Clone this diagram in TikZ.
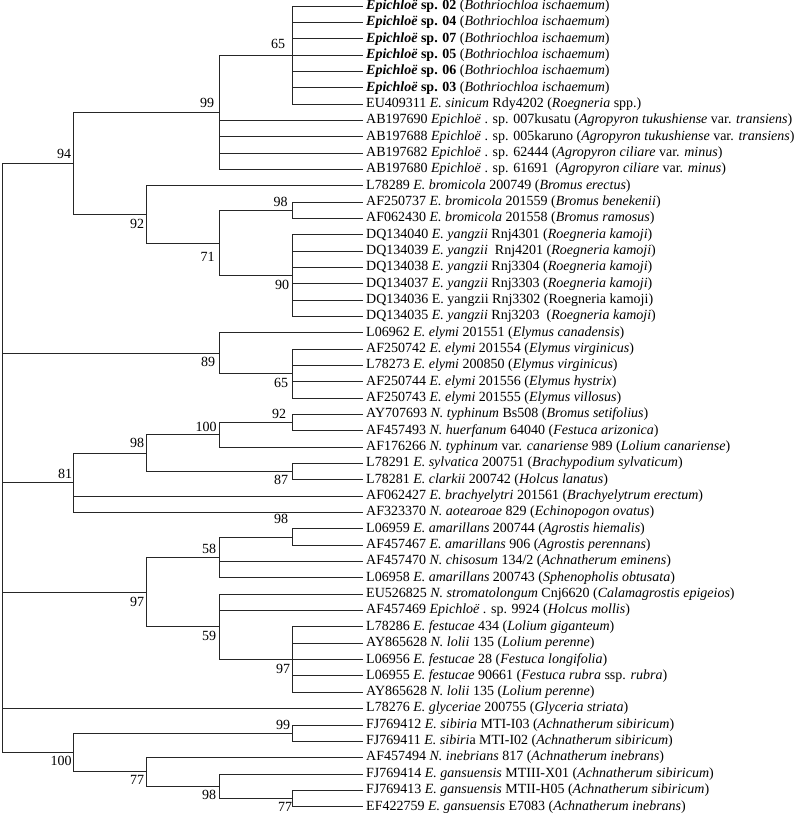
\documentclass[tikz,border=0pt]{standalone}
\usepackage{fontspec}
\setmainfont{Liberation Serif}
\usepackage{tikz}

\begin{document}
\begin{tikzpicture}[x=1pt, y=-1pt,
  taxon/.style={anchor=west, inner sep=0pt, inner xsep=3pt, font=\fontsize{14}{16}\selectfont},
  boot/.style={inner sep=0pt, font=\fontsize{14}{16}\selectfont},
  branch/.style={line width=0.9pt, color=black!85}]

\useasboundingbox (0,0) rectangle (800,814);

% junctions

\coordinate (r) at (2, 458);
\coordinate (j1) at (73, 163.3);
\coordinate (j2) at (219, 112.2);
\coordinate (j3) at (292, 55.0);
\coordinate (j4) at (146, 214.4);
\coordinate (j5) at (219, 243.0);
\coordinate (j6) at (292, 210.3);
\coordinate (j7) at (292, 275.6);
\coordinate (j8) at (219, 353.2);
\coordinate (j9) at (292, 373.7);
\coordinate (j10) at (73, 482.9);
\coordinate (j11) at (146, 453.3);
\coordinate (j12) at (219, 434.9);
\coordinate (j13) at (292, 422.7);
\coordinate (j14) at (292, 471.7);
\coordinate (j15) at (146, 592.2);
\coordinate (j16) at (219, 557.5);
\coordinate (j17) at (292, 537.1);
\coordinate (j18) at (219, 626.9);
\coordinate (j19) at (292, 659.6);
\coordinate (j20) at (73, 752.6);
\coordinate (j21) at (292, 733.2);
\coordinate (j22) at (146, 771.9);
\coordinate (j23) at (219, 786.2);
\coordinate (j24) at (292, 798.5);

% taxa

\node[taxon] (t1) at (363, 6.0) {\textbf{\textit{Epichloë}} \textbf{sp. 02} (\textit{Bothriochloa ischaemum})};
\node[taxon] (t2) at (363, 22.3) {\textbf{\textit{Epichloë}} \textbf{sp. 04} (\textit{Bothriochloa ischaemum})};
\node[taxon] (t3) at (363, 38.7) {\textbf{\textit{Epichloë}} \textbf{sp. 07} (\textit{Bothriochloa ischaemum})};
\node[taxon] (t4) at (363, 55.0) {\textbf{\textit{Epichloë}} \textbf{sp. 05} (\textit{Bothriochloa ischaemum})};
\node[taxon] (t5) at (363, 71.4) {\textbf{\textit{Epichloë}} \textbf{sp. 06} (\textit{Bothriochloa ischaemum})};
\node[taxon] (t6) at (363, 87.7) {\textbf{\textit{Epichloë}} \textbf{sp. 03} (\textit{Bothriochloa ischaemum})};
\node[taxon] (t7) at (363, 104.0) {EU409311 \textit{E. sinicum} Rdy4202 (\textit{Roegneria} spp.)};
\node[taxon] (t8) at (363, 120.4) {AB197690 \textit{Epichloë} . sp. 007kusatu (\textit{Agropyron tukushiense} var. \textit{transiens})};
\node[taxon] (t9) at (363, 136.7) {AB197688 \textit{Epichloë} . sp. 005karuno (\textit{Agropyron tukushiense} var. \textit{transiens})};
\node[taxon] (t10) at (363, 153.1) {AB197682 \textit{Epichloë} . sp. 62444 (\textit{Agropyron ciliare} var. \textit{minus})};
\node[taxon] (t11) at (363, 169.4) {AB197680 \textit{Epichloë} . sp. 61691\ \ (\textit{Agropyron ciliare} var. \textit{minus})};
\node[taxon] (t12) at (363, 185.7) {L78289 \textit{E. bromicola} 200749 (\textit{Bromus erectus})};
\node[taxon] (t13) at (363, 202.1) {AF250737 \textit{E. bromicola} 201559 (\textit{Bromus benekenii})};
\node[taxon] (t14) at (363, 218.4) {AF062430 \textit{E. bromicola} 201558 (\textit{Bromus ramosus})};
\node[taxon] (t15) at (363, 234.8) {DQ134040 \textit{E. yangzii} Rnj4301 (\textit{Roegneria kamoji})};
\node[taxon] (t16) at (363, 251.1) {DQ134039 \textit{E. yangzii}\ \ Rnj4201 (\textit{Roegneria kamoji})};
\node[taxon] (t17) at (363, 267.4) {DQ134038 \textit{E. yangzii} Rnj3304 (\textit{Roegneria kamoji})};
\node[taxon] (t18) at (363, 283.8) {DQ134037 \textit{E. yangzii} Rnj3303 (\textit{Roegneria kamoji})};
\node[taxon] (t19) at (363, 300.1) {DQ134036 E. yangzii Rnj3302 (Roegneria kamoji)};
\node[taxon] (t20) at (363, 316.5) {DQ134035 \textit{E. yangzii} Rnj3203\ \ (\textit{Roegneria kamoji})};
\node[taxon] (t21) at (363, 332.8) {L06962 \textit{E. elymi} 201551 (\textit{Elymus canadensis})};
\node[taxon] (t22) at (363, 349.1) {AF250742 \textit{E. elymi} 201554 (\textit{Elymus virginicus})};
\node[taxon] (t23) at (363, 365.5) {L78273 \textit{E. elymi} 200850 (\textit{Elymus virginicus})};
\node[taxon] (t24) at (363, 381.8) {AF250744 \textit{E. elymi} 201556 (\textit{Elymus hystrix})};
\node[taxon] (t25) at (363, 398.2) {AF250743 \textit{E. elymi} 201555 (\textit{Elymus villosus})};
\node[taxon] (t26) at (363, 414.5) {AY707693 \textit{N. typhinum} Bs508 (\textit{Bromus setifolius})};
\node[taxon] (t27) at (363, 430.8) {AF457493 \textit{N. huerfanum} 64040 (\textit{Festuca arizonica})};
\node[taxon] (t28) at (363, 447.2) {AF176266 \textit{N. typhinum} var. \textit{canariense} 989 (\textit{Lolium canariense})};
\node[taxon] (t29) at (363, 463.5) {L78291 \textit{E. sylvatica} 200751 (\textit{Brachypodium sylvaticum})};
\node[taxon] (t30) at (363, 479.9) {L78281 \textit{E. clarkii} 200742 (\textit{Holcus lanatus})};
\node[taxon] (t31) at (363, 496.2) {AF062427 \textit{E. brachyelytri} 201561 (\textit{Brachyelytrum erectum})};
\node[taxon] (t32) at (363, 512.5) {AF323370 \textit{N. aotearoae} 829 (\textit{Echinopogon ovatus})};
\node[taxon] (t33) at (363, 528.9) {L06959 \textit{E. amarillans} 200744 (\textit{Agrostis hiemalis})};
\node[taxon] (t34) at (363, 545.2) {AF457467 \textit{E. amarillans} 906 (\textit{Agrostis perennans})};
\node[taxon] (t35) at (363, 561.6) {AF457470 \textit{N. chisosum} 134/2 (\textit{Achnatherum eminens})};
\node[taxon] (t36) at (363, 577.9) {L06958 \textit{E. amarillans} 200743 (\textit{Sphenopholis obtusata})};
\node[taxon] (t37) at (363, 594.2) {EU526825 \textit{N. stromatolongum} Cnj6620 (\textit{Calamagrostis epigeios})};
\node[taxon] (t38) at (363, 610.6) {AF457469 \textit{Epichloë} . sp. 9924 (\textit{Holcus mollis})};
\node[taxon] (t39) at (363, 626.9) {L78286 \textit{E. festucae} 434 (\textit{Lolium giganteum})};
\node[taxon] (t40) at (363, 643.3) {AY865628 \textit{N. lolii} 135 (\textit{Lolium perenne})};
\node[taxon] (t41) at (363, 659.6) {L06956 \textit{E. festucae} 28 (\textit{Festuca longifolia})};
\node[taxon] (t42) at (363, 675.9) {L06955 \textit{E. festucae} 90661 (\textit{Festuca rubra} ssp. \textit{rubra})};
\node[taxon] (t43) at (363, 692.3) {AY865628 \textit{N. lolii} 135 (\textit{Lolium perenne})};
\node[taxon] (t44) at (363, 708.6) {L78276 \textit{E. glyceriae} 200755 (\textit{Glyceria striata})};
\node[taxon] (t45) at (363, 725.0) {FJ769412 \textit{E. sibiria} MTI-I03 (\textit{Achnatherum sibiricum})};
\node[taxon] (t46) at (363, 741.3) {FJ769411 \textit{E. sibiri}a MTI-I02 (\textit{Achnatherum sibiricum})};
\node[taxon] (t47) at (363, 757.6) {AF457494 \textit{N. inebrians} 817 (\textit{Achnatherum inebrans})};
\node[taxon] (t48) at (363, 774.0) {FJ769414 \textit{E. gansuensis} MTIII-X01 (\textit{Achnatherum sibiricum})};
\node[taxon] (t49) at (363, 790.3) {FJ769413 \textit{E. gansuensis} MTII-H05 (\textit{Achnatherum sibiricum})};
\node[taxon] (t50) at (363, 806.7) {EF422759 \textit{E. gansuensis} E7083 (\textit{Achnatherum inebrans})};

% bootstrap values

\node[boot] (s1) at (64, 153.5) {94};
\node[boot] (s2) at (207, 103) {99};
\node[boot] (s3) at (278, 44) {65};
\node[boot] (s4) at (137, 224) {92};
\node[boot] (s5) at (207.5, 257) {71};
\node[boot] (s6) at (280.5, 202) {98};
\node[boot] (s7) at (282, 285) {90};
\node[boot] (s8) at (208, 362) {89};
\node[boot] (s9) at (281, 383) {65};
\node[boot] (s10) at (65, 474) {81};
\node[boot] (s11) at (137, 443.3) {98};
\node[boot] (s12) at (206, 426.7) {100};
\node[boot] (s13) at (279, 414) {92};
\node[boot] (s14) at (281, 480) {87};
\node[boot] (s15) at (137, 601.5) {97};
\node[boot] (s16) at (209, 549.3) {58};
\node[boot] (s17) at (281, 519.3) {98};
\node[boot] (s18) at (209, 635.7) {59};
\node[boot] (s19) at (283, 669.3) {97};
\node[boot] (s20) at (61, 760.5) {100};
\node[boot] (s21) at (283, 725) {99};
\node[boot] (s22) at (137, 780) {77};
\node[boot] (s23) at (209, 794.5) {98};
\node[boot] (s24) at (285, 807) {77};

% root
\draw[branch] (r) |- (j1);
\draw[branch] (r) |- (j8);
\draw[branch] (r) |- (j10);
\draw[branch] (r) |- (j15);
\draw[branch] (r) |- (t44.west);
\draw[branch] (r) |- (j20);

% clade 94
\draw[branch] (j1) |- (j2);
\draw[branch] (j1) |- (j4);
\draw[branch] (j2) |- (j3);
\draw[branch] (j2) |- (t8.west);
\draw[branch] (j2) |- (t9.west);
\draw[branch] (j2) |- (t10.west);
\draw[branch] (j2) |- (t11.west);
\draw[branch] (j3) |- (t1.west);
\draw[branch] (j3) |- (t2.west);
\draw[branch] (j3) |- (t3.west);
\draw[branch] (j3) |- (t4.west);
\draw[branch] (j3) |- (t5.west);
\draw[branch] (j3) |- (t6.west);
\draw[branch] (j3) |- (t7.west);
\draw[branch] (j4) |- (t12.west);
\draw[branch] (j4) |- (j5);
\draw[branch] (j5) |- (j6);
\draw[branch] (j5) |- (j7);
\draw[branch] (j6) |- (t13.west);
\draw[branch] (j6) |- (t14.west);
\draw[branch] (j7) |- (t15.west);
\draw[branch] (j7) |- (t16.west);
\draw[branch] (j7) |- (t17.west);
\draw[branch] (j7) |- (t18.west);
\draw[branch] (j7) |- (t19.west);
\draw[branch] (j7) |- (t20.west);

% clade 89
\draw[branch] (j8) |- (t21.west);
\draw[branch] (j8) |- (j9);
\draw[branch] (j9) |- (t22.west);
\draw[branch] (j9) |- (t23.west);
\draw[branch] (j9) |- (t24.west);
\draw[branch] (j9) |- (t25.west);

% clade 81
\draw[branch] (j10) |- (j11);
\draw[branch] (j10) |- (t31.west);
\draw[branch] (j10) |- (t32.west);
\draw[branch] (j11) |- (j12);
\draw[branch] (j11) |- (j14);
\draw[branch] (j12) |- (j13);
\draw[branch] (j12) |- (t28.west);
\draw[branch] (j13) |- (t26.west);
\draw[branch] (j13) |- (t27.west);
\draw[branch] (j14) |- (t29.west);
\draw[branch] (j14) |- (t30.west);

% clade 97
\draw[branch] (j15) |- (j16);
\draw[branch] (j15) |- (j18);
\draw[branch] (j16) |- (j17);
\draw[branch] (j16) |- (t35.west);
\draw[branch] (j16) |- (t36.west);
\draw[branch] (j17) |- (t33.west);
\draw[branch] (j17) |- (t34.west);
\draw[branch] (j18) |- (t37.west);
\draw[branch] (j18) |- (t38.west);
\draw[branch] (j18) |- (j19);
\draw[branch] (j19) |- (t39.west);
\draw[branch] (j19) |- (t40.west);
\draw[branch] (j19) |- (t41.west);
\draw[branch] (j19) |- (t42.west);
\draw[branch] (j19) |- (t43.west);

% clade 100
\draw[branch] (j20) |- (j21);
\draw[branch] (j20) |- (j22);
\draw[branch] (j21) |- (t45.west);
\draw[branch] (j21) |- (t46.west);
\draw[branch] (j22) |- (t47.west);
\draw[branch] (j22) |- (j23);
\draw[branch] (j23) |- (t48.west);
\draw[branch] (j23) |- (j24);
\draw[branch] (j24) |- (t49.west);
\draw[branch] (j24) |- (t50.west);

\end{tikzpicture}
\end{document}
